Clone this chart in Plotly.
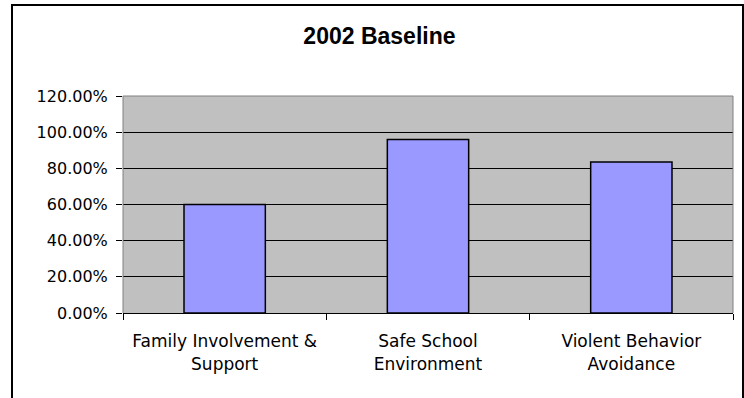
import plotly.graph_objects as go

# Survey results, 2002 baseline
categories = ["Family Involvement &<br>Support", "Safe School<br>Environment", "Violent Behavior<br>Avoidance"]
values = [0.60, 0.96, 0.835]
y_ticks = [0.0, 0.2, 0.4, 0.6, 0.8, 1.0, 1.2]

W, H = 744, 398
ML, MR, MT, MB = 123, 11, 96, 85
PW, PH = W - ML - MR, H - MT - MB


def px_x(p):
    return (p - ML) / PW


def px_y(p):
    return (H - MB - p) / PH


label_font = dict(family="DejaVu Sans", size=16, color="black")

fig = go.Figure(
    go.Bar(
        x=categories,
        y=values,
        marker=dict(color="#9999FF", line=dict(color="black", width=1.5)),
        hoverinfo="skip",
    )
)

fig.update_layout(
    width=W,
    height=H,
    margin=dict(l=ML, r=MR, t=MT, b=MB),
    paper_bgcolor="white",
    plot_bgcolor="#C0C0C0",
    bargap=0.6,
    showlegend=False,
    title=dict(
        text="<b>2002 Baseline</b>",
        font=dict(family="Liberation Sans", size=23, color="black"),
        x=0.51, xref="container", xanchor="center",
        y=1 - 36 / H, yref="container", yanchor="middle",
    ),
    xaxis=dict(
        tickfont=dict(family="DejaVu Sans", size=17, color="black"),
        showline=True, linecolor="black", linewidth=1,
        ticks="outside", ticklen=6, tickcolor="black", tickson="boundaries",
        ticklabelstandoff=13,
        showgrid=False,
    ),
    yaxis=dict(
        range=[0, 1.2],
        tickvals=y_ticks,
        tickformat=".2%",
        tickfont=label_font,
        ticks="outside", ticklen=6, tickcolor="black",
        ticklabelstandoff=5,
        showgrid=True, gridcolor="black", gridwidth=1,
        showline=False, zeroline=False,
    ),
    shapes=[
        # grey plot-area border (left, top, right)
        dict(type="path", xref="paper", yref="paper",
             path="M0,0 L0,1 L1,1 L1,0", line=dict(color="#808080", width=1), layer="above"),
        # outer chart frame
        dict(type="rect", xref="paper", yref="paper",
             x0=px_x(12), x1=px_x(743), y0=px_y(405), y1=px_y(5),
             line=dict(color="black", width=2), layer="above"),
    ],
)

fig.write_html("out.html")
